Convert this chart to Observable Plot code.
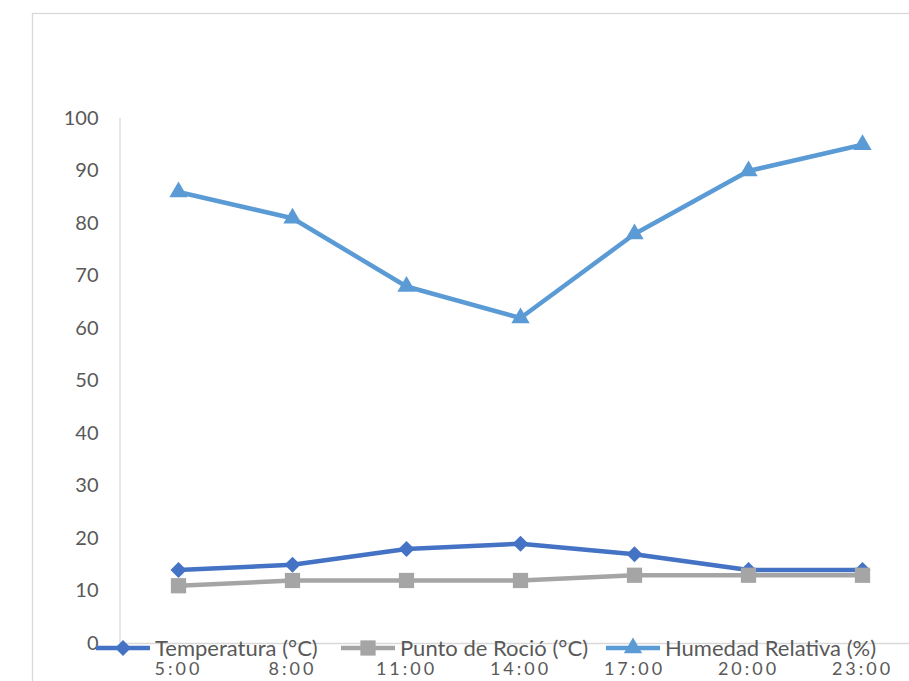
<!DOCTYPE html>
<html>
<head>
<meta charset="utf-8">
<script src="https://cdn.jsdelivr.net/npm/d3@7"></script>
<script src="https://cdn.jsdelivr.net/npm/@observablehq/plot@0.6"></script>
<style>
  html, body { margin: 0; padding: 0; background: #fff; }
  #chart { position: relative; width: 909px; height: 681px; overflow: hidden; }
</style>
</head>
<body>
<div id="chart"></div>
<script>
const horas = ["5:00", "8:00", "11:00", "14:00", "17:00", "20:00", "23:00"];
const temperatura = [14, 15, 18, 19, 17, 14, 14];
const puntoRocio = [11, 12, 12, 12, 13, 13, 13];
const humedad = [86, 81, 68, 62, 78, 90, 95];
const yTicks = [0, 10, 20, 30, 40, 50, 60, 70, 80, 90, 100];
const seriesNames = ["Temperatura (°C)", "Punto de Roció (°C)", "Humedad Relativa (%)"];
const seriesColors = ["#4472C4", "#A5A5A5", "#5B9BD5"];
const seriesSymbols = ["diamond2", "square", "triangle"];
const seriesR = [7.2, 8.6, 6.8];

const seriesValues = [temperatura, puntoRocio, humedad];
const data = seriesNames.flatMap((s, i) => horas.map((h, j) => ({serie: s, hora: h, valor: seriesValues[i][j]})));

const W = 909, H = 681;
const font = "Lato, 'Open Sans', sans-serif";

const marks = [Plot.ruleY([0], {stroke: "#D9D9D9", strokeWidth: 1.3})];
seriesNames.forEach((s, i) => {
  const d = data.filter(r => r.serie === s);
  marks.push(Plot.line(d, {x: "hora", y: "valor", stroke: seriesColors[i], strokeWidth: 4.5}));
  marks.push(Plot.dot(d, {x: "hora", y: "valor", symbol: () => seriesSymbols[i], fill: seriesColors[i], stroke: "none", r: seriesR[i]}));
});
marks.push(Plot.axisY({ticks: yTicks, tickSize: 0, tickPadding: 22, fontSize: 20, fill: "#595959", label: null}));
marks.push(Plot.axisX({tickSize: 0, tickPadding: 19, fontSize: 18, fill: "#595959", label: null}));

const plot = Plot.plot({
  width: W,
  height: H,
  marginLeft: 120,
  marginRight: 0,
  marginTop: 118,
  marginBottom: 38,
  style: {fontFamily: font, background: "#fff", overflow: "visible"},
  x: {type: "point", domain: horas, range: [120, 920]},
  y: {domain: [0, 100], range: [643, 118]},
  symbol: {type: "identity"},
  marks
});

document.getElementById("chart").appendChild(plot);

const svg = d3.select(plot);
svg.selectAll("g[aria-label='x-axis tick label'] text").attr("letter-spacing", "3px");
svg.insert("rect", ":first-child")
  .attr("x", 32.5).attr("y", 13.5).attr("width", 1000).attr("height", 1000)
  .attr("fill", "#fff").attr("stroke", "#D9D9D9").attr("stroke-width", 1.3);
svg.append("line").attr("x1", 120).attr("x2", 120).attr("y1", 118).attr("y2", 643)
  .attr("stroke", "#D9D9D9").attr("stroke-width", 1.3);

// legend
const legendX = [96, 341, 606];
const legendY = 648;
const lg = svg.append("g").attr("font-family", font).attr("font-size", 22).attr("fill", "#595959").attr("text-anchor", "start");
seriesNames.forEach((s, i) => {
  const x0 = legendX[i];
  lg.append("line").attr("x1", x0).attr("x2", x0 + 54).attr("y1", legendY).attr("y2", legendY)
    .attr("stroke", seriesColors[i]).attr("stroke-width", 4.5);
  lg.append("path").attr("transform", `translate(${x0 + 27},${legendY})`)
    .attr("d", d3.symbol(
      i === 0 ? d3.symbolDiamond2 : i === 1 ? d3.symbolSquare : d3.symbolTriangle,
      Math.PI * seriesR[i] * seriesR[i])())
    .attr("fill", seriesColors[i]);
  lg.append("text").attr("x", x0 + 59).attr("y", legendY).attr("dy", "0.35em").attr("text-anchor", "start").text(s);
});
</script>
</body>
</html>
